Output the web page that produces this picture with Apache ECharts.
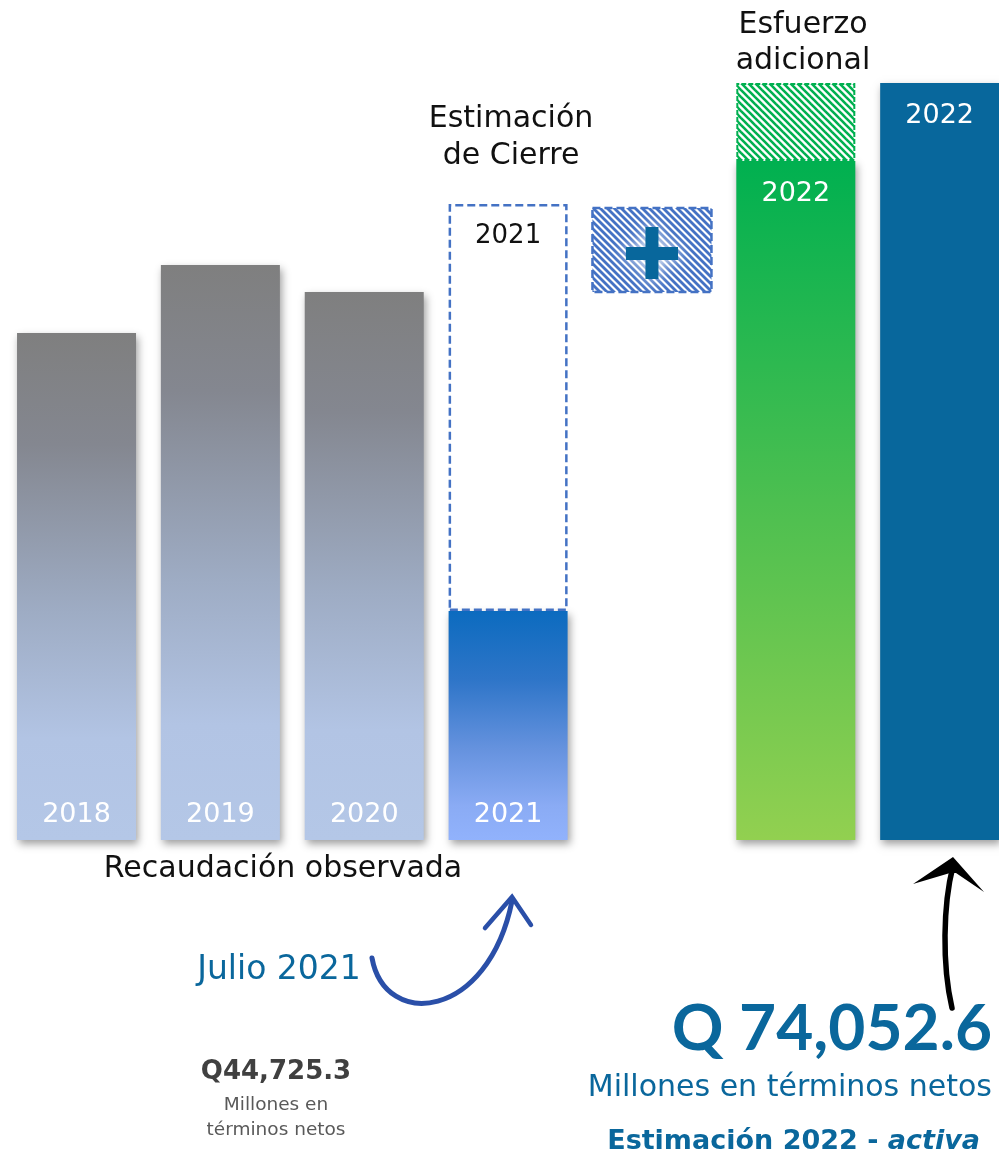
<!DOCTYPE html>
<html>
<head>
<meta charset="utf-8">
<script src="https://cdn.jsdelivr.net/npm/echarts@6/dist/echarts.min.js"></script>
<style>
html,body{margin:0;padding:0;background:#fff;}
#main{width:999px;height:1156px;}
</style>
</head>
<body>
<div id="main"></div>
<script>
// ---- data ----
const categories = ['2018', '2019', '2020', '2021', '+', '2022 esfuerzo', '2022 activa'];
const barLabels = ['2018', '2019', '2020', '2021', '', '2022', '2022'];
const recaudacion = [60165, 63942, 62443, 44725.3, null, 69720, 74052.6];
const cierre2021 = [null, null, null, 67332, null, null, null];
const esfuerzoAdicional = [null, null, null, null, null, 4332.6, null];
const observado2021 = 44725.3;
const estimacion2022 = 74052.6;

const FONT = '"DejaVu Sans"';
const FONT_NUM = 'Lato';

function hatch(stripe, bg, size, lw) {
  const c = document.createElement('canvas');
  c.width = size; c.height = size;
  const g = c.getContext('2d');
  g.fillStyle = bg; g.fillRect(0, 0, size, size);
  g.strokeStyle = stripe; g.lineWidth = lw;
  for (let k = -1; k <= 1; k++) {
    g.beginPath();
    g.moveTo(k * size - 1, -1);
    g.lineTo(k * size + size + 1, size + 1);
    g.stroke();
  }
  return c;
}
const greenHatch = hatch('#00b050', '#ffffff', 7, 2.6);
const blueHatch = hatch('#4472c4', '#ffffff', 7, 2.8);

const shadow = { shadowBlur: 8, shadowOffsetX: 2, shadowOffsetY: 4, shadowColor: 'rgba(0,0,0,0.38)' };
function vgrad(stops) {
  return new echarts.graphic.LinearGradient(0, 0, 0, 1, stops.map(s => ({ offset: s[0], color: s[1] })));
}
const grayGrad = () => vgrad([[0, '#7f7f7f'], [0.22, '#848790'], [0.55, '#9eacc4'], [0.8, '#b2c4e4'], [1, '#b4c7e7']]);
const blue21Grad = () => vgrad([[0, '#0c6bbf'], [0.3, '#2e75c8'], [0.6, '#6592de'], [0.85, '#8aabf4'], [1, '#91b2fc']]);
const greenGrad = () => vgrad([[0, '#00b050'], [0.5, '#4cbf50'], [1, '#92d050']]);

const barColors = [grayGrad(), grayGrad(), grayGrad(), blue21Grad(), null, greenGrad(), '#08679c'];

const recData = recaudacion.map((v, i) => {
  if (v == null) return null;
  const top = i >= 5;
  return {
    value: v,
    itemStyle: Object.assign({ color: barColors[i] }, shadow),
    label: {
      show: true,
      formatter: barLabels[i],
      position: top ? 'insideTop' : 'insideBottom',
      distance: top ? 19 : 12,
      color: '#ffffff',
      fontSize: 27,
      fontFamily: FONT
    }
  };
});

const cierreExtra = cierre2021.map((v, i) => v == null ? null : {
  value: v - recaudacion[i],
  label: { show: true, formatter: barLabels[i], position: 'insideTop', distance: 19, color: '#111', fontSize: 26, fontFamily: FONT }
});

const chart = echarts.init(document.getElementById('main'), null, { renderer: 'canvas' });

const option = {
  animation: false,
  backgroundColor: '#ffffff',
  grid: { left: 4.6, width: 1007, top: 48, height: 792, containLabel: false, outerBoundsMode: 'none' },
  xAxis: { type: 'category', data: categories, show: false },
  yAxis: { type: 'value', min: 32000, max: 76000, show: false },
  series: [
    {
      type: 'bar', stack: 'total', barWidth: 119, data: recData, z: 2
    },
    {
      type: 'bar', stack: 'total', barWidth: 119, data: cierreExtra, z: 3,
      itemStyle: { color: 'rgba(255,255,255,0)', borderColor: '#4472c4', borderWidth: 2.5, borderType: [8, 4] }
    },
    {
      type: 'bar', stack: 'total', barWidth: 119, data: esfuerzoAdicional, z: 3,
      itemStyle: { color: { image: greenHatch, repeat: 'repeat' }, borderColor: '#00b050', borderWidth: 2, borderType: [5, 2] }
    }
  ]
};
chart.setOption(option);

// decorative elements
const plusX = chart.convertToPixel({ xAxisIndex: 0 }, '+');
const pTop = 208, pBot = 292, pW = 119;
const tcol = '#0a679c';
const glow = { shadowColor: 'rgba(255,255,255,1)', shadowBlur: 16 };

function txt(x, y, text, size, color, extra, font) {
  return {
    type: 'text', x: x, y: y, silent: true,
    style: Object.assign({ text: text, fill: color, fontSize: size, fontFamily: font || FONT, align: 'center', verticalAlign: 'middle' }, extra || {})
  };
}

chart.setOption({
  graphic: [
    // plus box
    { type: 'rect', shape: { x: plusX - pW / 2, y: pTop, width: pW, height: pBot - pTop },
      style: { fill: { image: blueHatch, repeat: 'repeat' }, stroke: '#4472c4', lineWidth: 2.5, lineDash: [8, 4] } },
    { type: 'rect', shape: { x: plusX - 26, y: pTop + 39, width: 52, height: 13 }, style: Object.assign({ fill: '#08679c' }, glow) },
    { type: 'rect', shape: { x: plusX - 6.5, y: pTop + 19, width: 13, height: 52 }, style: Object.assign({ fill: '#08679c' }, glow) },
    { type: 'rect', shape: { x: plusX - 26, y: pTop + 39, width: 52, height: 13 }, style: { fill: '#08679c' } },

    // titles
    txt(511, 119, 'Estimación', 30, '#111'),
    txt(511, 156, 'de Cierre', 30, '#111'),
    txt(803, 25, 'Esfuerzo', 30, '#111'),
    txt(803, 61, 'adicional', 30, '#111'),
    txt(283, 869, 'Recaudación observada', 30, '#111'),
    txt(279, 970, 'Julio 2021', 33, tcol),

    // Q44,725.3 block
    txt(276, 1072, 'Q' + observado2021.toLocaleString('en-US', { minimumFractionDigits: 1 }), 26, '#404040', { fontWeight: 'bold' }),
    txt(276, 1105, 'Millones en', 18.5, '#595959'),
    txt(276, 1130, 'términos netos', 18.5, '#595959'),

    // Q 74,052.6 block
    txt(992, 1029, 'Q ' + estimacion2022.toLocaleString('en-US', { minimumFractionDigits: 1 }), 64, tcol, { fontWeight: 'bold', align: 'right' }, FONT_NUM),
    txt(992, 1088, 'Millones en términos netos', 30, tcol, { align: 'right' }),
    {
      type: 'text', x: 980, y: 1142, silent: true,
      style: {
        text: '{b|Estimación 2022 - }{i|activa}', align: 'right', verticalAlign: 'middle', fill: tcol,
        rich: {
          b: { fontSize: 27, fontWeight: 'bold', fontFamily: FONT, color: tcol },
          i: { fontSize: 27, fontWeight: 'bold', fontStyle: 'italic', fontFamily: FONT, color: tcol }
        }
      }
    },

    // blue curved arrow
    { type: 'bezierCurve', shape: { x1: 372, y1: 958, cpx1: 385, cpy1: 1030, cpx2: 488, cpy2: 1020, x2: 512, y2: 901 },
      style: { stroke: '#2a4fa8', lineWidth: 5, fill: null, lineCap: 'round' } },
    { type: 'polyline', shape: { points: [[485, 928], [512, 897], [531, 925]] },
      style: { stroke: '#2a4fa8', lineWidth: 4.5, fill: null, lineCap: 'round', lineJoin: 'miter' } },

    // black arrow
    { type: 'bezierCurve', shape: { x1: 952, y1: 1008, cpx1: 942, cpy1: 965, cpx2: 943, cpy2: 905, x2: 953, y2: 866 },
      style: { stroke: '#000', lineWidth: 5.5, fill: null, lineCap: 'round' } },
    { type: 'polygon', shape: { points: [[953, 857], [984, 892], [956, 873], [950, 873], [913, 884]] },
      style: { fill: '#000' } }
  ]
});
</script>
</body>
</html>
